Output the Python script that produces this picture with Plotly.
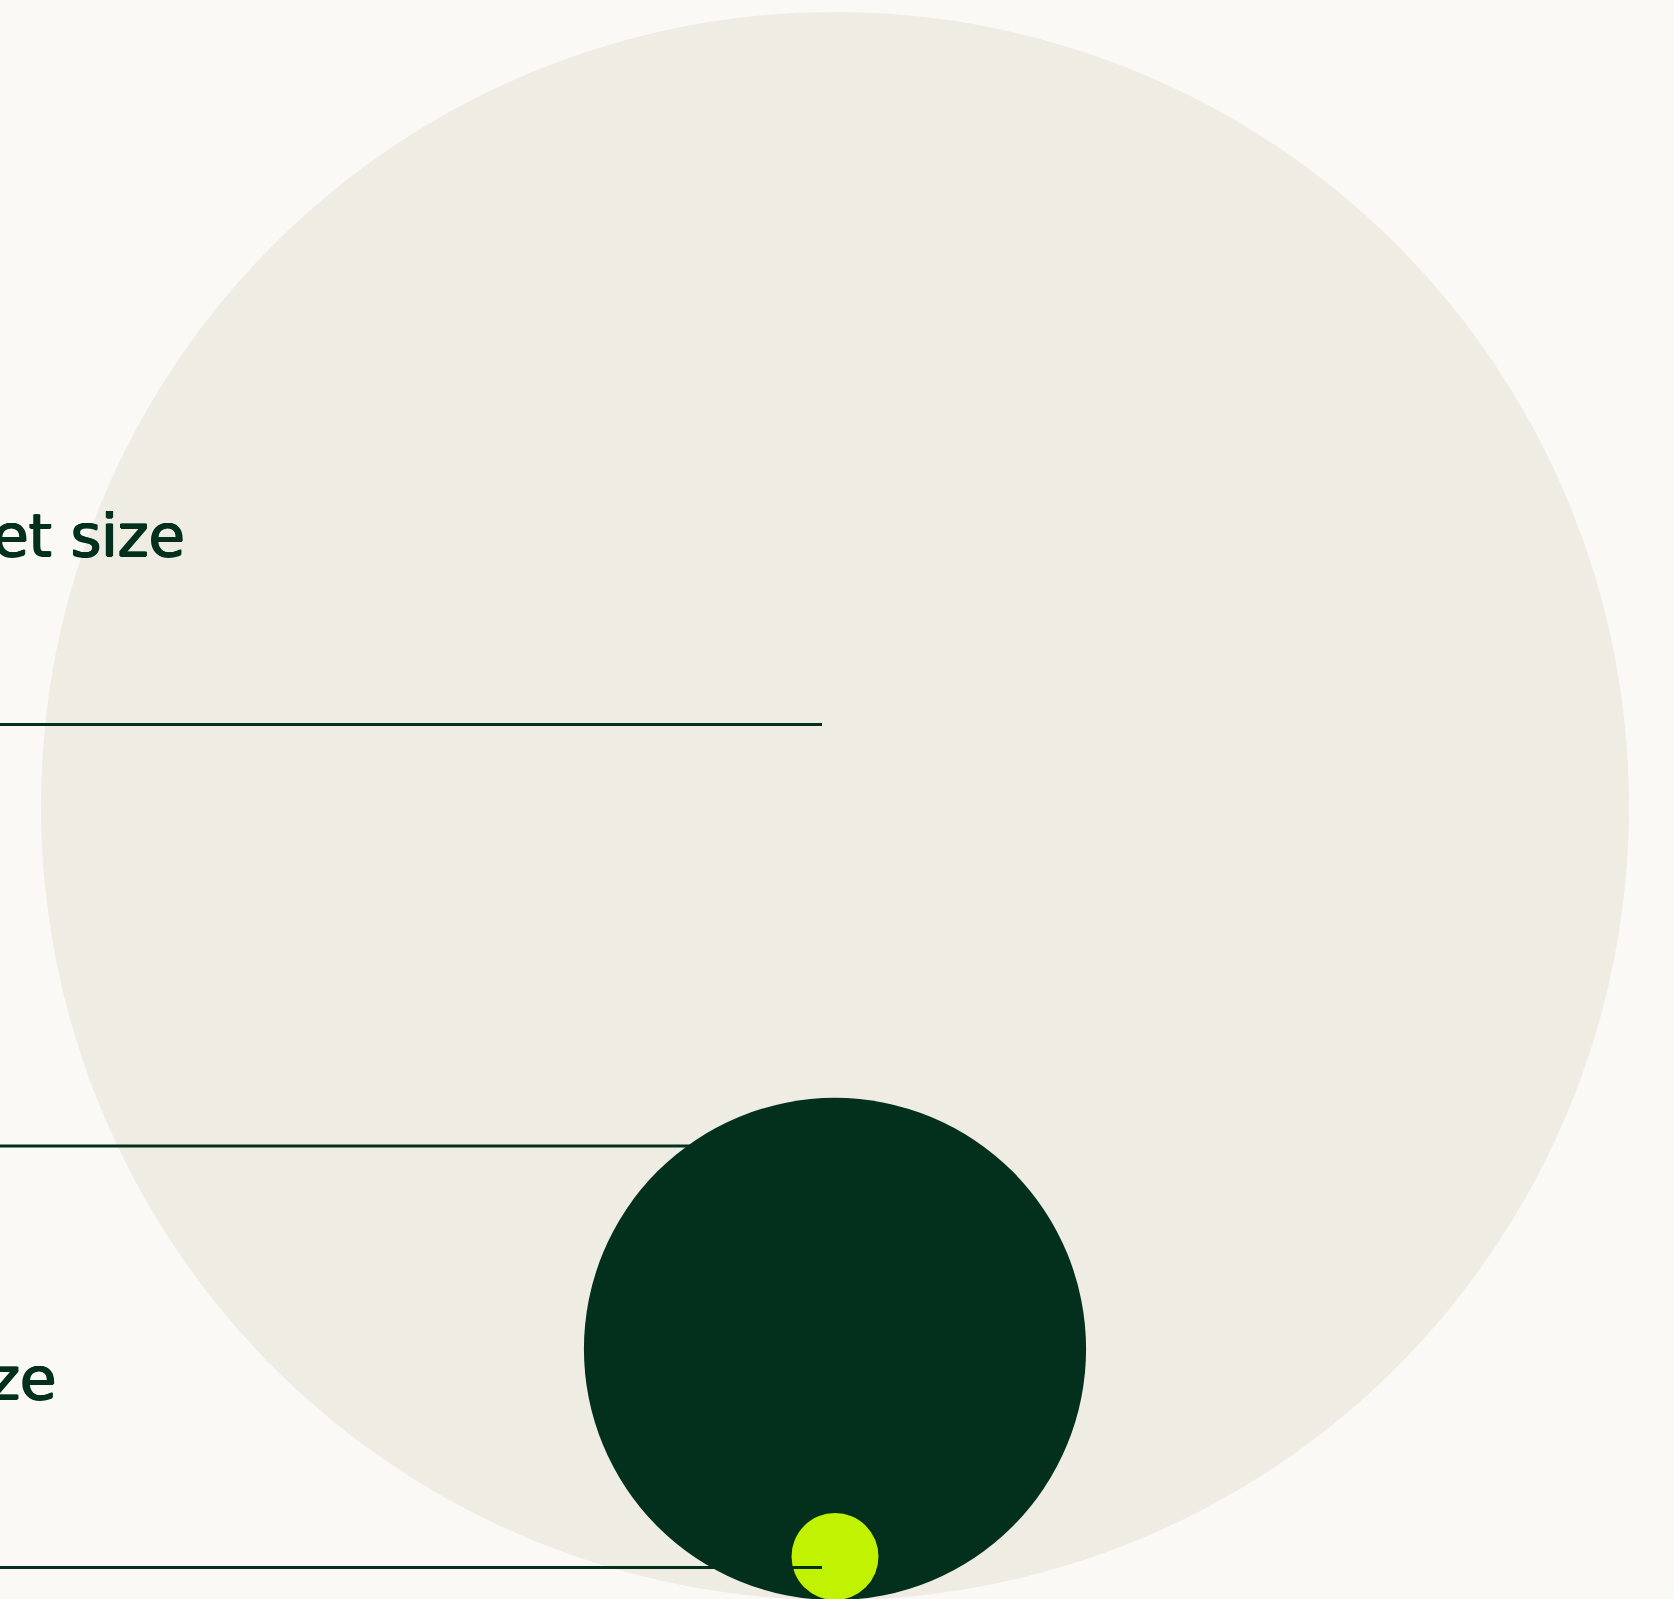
import plotly.graph_objects as go
import math

# ---- data ----
segments = ["Total addressable market", "Serviceable addressable market", "Serviceable obtainable market"]
market_values = [100.0, 10.0, 0.3]          # relative market sizes (area-proportional circles)
row_labels = ["Total addressable market size", "Serviceable addressable market", "Serviceable obtainable market size"]
circle_colors = ["#EFECE4", "#02301D", "#C0F202"]

W, H = 1674, 1599
BG = "#FAF9F5"
INK = "#02301D"

# ---- scales ----
R_MAX = 794.0                 # radius (px) of the largest circle
CX = 835.0                    # common centre x
BASE = 1600.0                 # common bottom tangent y
vmax = max(market_values)
radii = [R_MAX * math.sqrt(v / vmax) for v in market_values]

fig = go.Figure()
fig.add_trace(go.Scatter(x=[0, W], y=[0, H], mode="markers",
                         marker=dict(opacity=0), hoverinfo="skip", showlegend=False))

shapes = []
for r, c in zip(radii, circle_colors):
    shapes.append(dict(type="circle", xref="x", yref="y",
                       x0=CX - r, x1=CX + r, y0=BASE - 2 * r, y1=BASE,
                       fillcolor=c, line=dict(width=0), layer="below"))

# divider lines, one per row
ROW_H = 421.5
LINE_Y0 = 724.5
LINE_END = 822
for i in range(len(segments)):
    y = LINE_Y0 + i * ROW_H
    shapes.append(dict(type="line", xref="x", yref="y", x0=0, x1=LINE_END, y0=y, y1=y,
                       line=dict(color=INK, width=3), layer="above"))

annotations = []
label_right = [187, None, 58]
emb = "0.9px 0 0 #02301D, -0.9px 0 0 #02301D, 0 0.5px 0 #02301D, 0 -0.5px 0 #02301D"
for i, (lab, xr) in enumerate(zip(row_labels, label_right)):
    if xr is None:
        xr = -40
    y = LINE_Y0 + i * ROW_H - 153
    annotations.append(dict(text=lab, x=xr, y=y, xref="x", yref="y",
                            xanchor="right", yanchor="bottom", showarrow=False,
                            font=dict(family="DejaVu Sans", size=59, color=INK, shadow=emb)))

fig.update_layout(
    width=W, height=H, margin=dict(l=0, r=0, t=0, b=0),
    paper_bgcolor=BG, plot_bgcolor=BG,
    xaxis=dict(range=[0, W], visible=False, fixedrange=True),
    yaxis=dict(range=[H, 0], visible=False, fixedrange=True),
    shapes=shapes, annotations=annotations, showlegend=False,
)
fig.write_html("out.html")
